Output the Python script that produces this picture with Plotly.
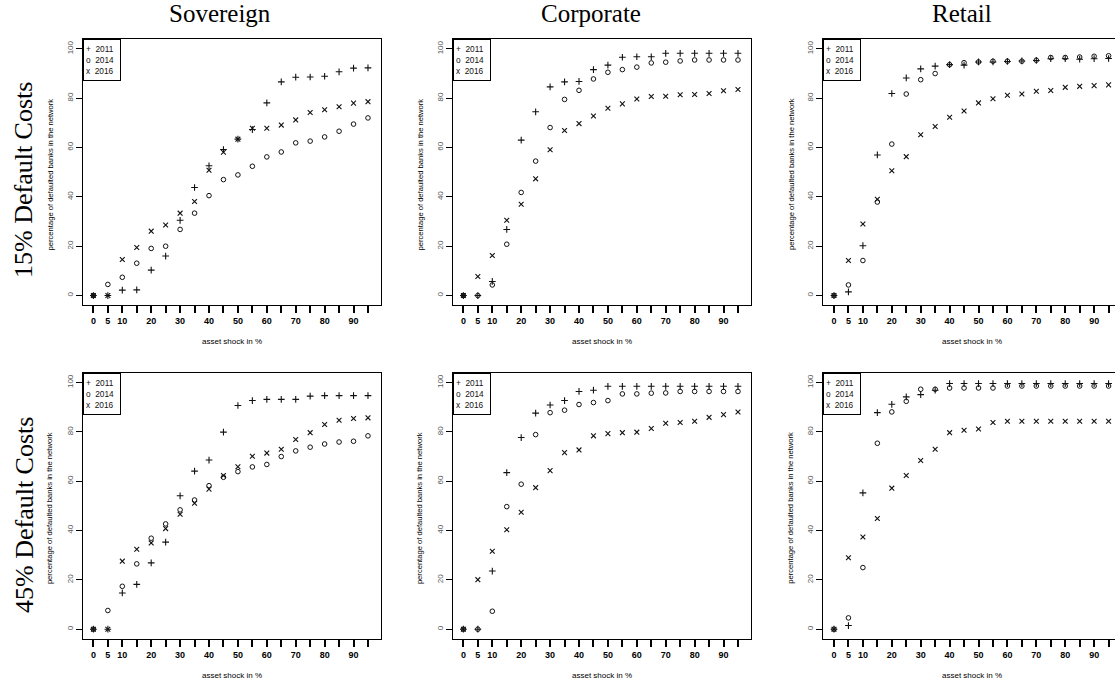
import plotly.graph_objects as go

# ---------------- data ----------------
shocks = [0, 5, 10, 15, 20, 25, 30, 35, 40, 45, 50, 55, 60, 65, 70, 75, 80, 85, 90, 95]
x_tick_text = ["0", "5", "10", "", "20", "", "30", "", "40", "", "50", "", "60", "", "70", "", "80", "", "90", ""]
y_ticks = [0, 20, 40, 60, 80, 100]
years = ["2011", "2014", "2016"]
col_titles = ["Sovereign", "Corporate", "Retail"]
row_titles = ["15% Default Costs", "45% Default Costs"]

sov15_2011 = [0, 0, 2.2, 2.3, 10.3, 16.0, 30.5, 43.8, 52.6, 59.2, 63.4, 67.3, 78.1, 86.6, 88.5, 88.6, 88.9, 90.7, 92.2, 92.3]
sov15_2014 = [0, 4.5, 7.4, 13.1, 19.1, 20.0, 26.8, 33.4, 40.5, 47.0, 48.9, 52.4, 56.2, 58.2, 61.9, 62.6, 64.3, 66.6, 69.5, 72.0]
sov15_2016 = [0, 0, 14.6, 19.5, 26.1, 28.6, 33.4, 38.1, 50.8, 58.1, 63.4, 67.8, 67.8, 69.1, 71.2, 74.2, 75.3, 76.5, 78.0, 78.6]

cor15_2011 = [0, 0, 5.7, 26.8, 63.0, 74.5, 84.6, 86.6, 86.8, 91.6, 93.4, 96.6, 96.8, 96.8, 98.2, 98.2, 98.2, 98.2, 98.2, 98.2]
cor15_2014 = [0, 0, 4.3, 20.8, 41.8, 54.5, 68.1, 79.5, 83.2, 87.8, 90.5, 91.6, 92.6, 94.3, 94.6, 95.1, 95.5, 95.5, 95.5, 95.5]
cor15_2016 = [0, 7.7, 16.2, 30.5, 37.0, 47.3, 59.1, 66.9, 69.7, 72.8, 75.9, 77.7, 79.7, 80.7, 80.8, 81.4, 81.5, 81.9, 83.0, 83.5]

ret15_2011 = [0, 1.5, 20.2, 57.0, 81.9, 88.2, 91.9, 93.0, 93.6, 93.4, 94.7, 94.7, 94.9, 95.1, 95.3, 96.0, 96.0, 95.8, 96.0, 96.1]
ret15_2014 = [0, 4.3, 14.2, 37.9, 61.4, 81.7, 87.5, 90.0, 93.6, 94.4, 94.7, 95.0, 95.0, 95.0, 95.4, 96.5, 96.5, 96.7, 97.0, 97.2]
ret15_2016 = [0, 14.2, 29.0, 39.0, 50.6, 56.3, 65.2, 68.5, 72.3, 74.8, 78.1, 79.8, 81.2, 81.7, 82.8, 83.1, 84.4, 84.8, 85.1, 85.4]

sov45_2011 = [0, 0, 14.7, 18.2, 26.9, 35.3, 54.1, 64.1, 68.6, 79.9, 90.7, 92.7, 93.2, 93.2, 93.2, 94.5, 94.7, 94.7, 94.7, 94.7]
sov45_2014 = [0, 7.6, 17.4, 26.5, 36.9, 42.7, 48.4, 52.4, 58.2, 61.6, 63.9, 65.8, 66.8, 70.0, 72.3, 73.8, 75.1, 75.9, 76.2, 78.4]
sov45_2016 = [0, 0, 27.6, 32.4, 35.0, 40.8, 46.6, 51.1, 56.8, 62.3, 65.9, 70.1, 71.4, 73.0, 76.9, 79.7, 83.0, 84.7, 85.4, 85.7]

cor45_2011 = [0, 0, 23.6, 63.5, 77.7, 87.6, 90.9, 92.7, 96.4, 96.9, 98.5, 98.5, 98.5, 98.5, 98.5, 98.5, 98.5, 98.5, 98.5, 98.5]
cor45_2014 = [0, 0, 7.3, 49.7, 58.8, 78.9, 87.8, 88.8, 91.1, 91.9, 92.7, 95.4, 95.4, 95.7, 95.8, 96.4, 96.4, 96.4, 96.4, 96.4]
cor45_2016 = [0, 20.1, 31.6, 40.3, 47.4, 57.4, 64.3, 71.6, 72.7, 78.4, 79.3, 79.7, 79.9, 81.4, 83.5, 83.8, 84.3, 85.9, 87.0, 88.1]

ret45_2011 = [0, 1.5, 55.3, 87.8, 91.2, 94.2, 95.1, 96.9, 99.6, 99.6, 99.6, 99.6, 99.6, 99.6, 99.6, 99.6, 99.6, 99.6, 99.6, 99.6]
ret45_2014 = [0, 4.6, 25.0, 75.4, 88.1, 92.4, 97.3, 97.3, 97.8, 97.8, 97.8, 97.8, 98.6, 98.6, 98.6, 98.6, 98.6, 98.6, 98.6, 98.6]
ret45_2016 = [0, 29.0, 37.4, 44.9, 57.2, 62.3, 68.4, 73.0, 79.7, 80.7, 81.2, 83.8, 84.3, 84.3, 84.3, 84.3, 84.3, 84.3, 84.3, 84.3]

panels = [
    [sov15_2011, sov15_2014, sov15_2016],
    [cor15_2011, cor15_2014, cor15_2016],
    [ret15_2011, ret15_2014, ret15_2016],
    [sov45_2011, sov45_2014, sov45_2016],
    [cor45_2011, cor45_2014, cor45_2016],
    [ret45_2011, ret45_2014, ret45_2016],
]

# ---------------- layout geometry (pixels) ----------------
W, H = 1115, 686
col_left = [82.7, 452.7, 823.3]
col_right = [380.7, 750.7, 1115.0]
row_top = [39.0, 372.7]
row_bot = [305.4, 639.1]
px_per_unit = 298.0 / 103.1
x0 = -3.7

def px(x):
    return x / W

def py(y):
    return 1 - y / H

symbols = [
    dict(symbol="cross-thin-open", size=4.8, line=dict(width=1.1, color="#111")),
    dict(symbol="circle-open", size=4.6, line=dict(width=1, color="#111")),
    dict(symbol="x-thin-open", size=4.8, line=dict(width=1.1, color="#111")),
]

fig = go.Figure()
layout_axes = {}
annotations = []
for i, series in enumerate(panels):
    r, c = divmod(i, 3)
    n = i + 1
    xa = "x" if n == 1 else f"x{n}"
    ya = "y" if n == 1 else f"y{n}"
    for k, vals in enumerate(series):
        fig.add_trace(go.Scatter(
            x=shocks, y=vals, mode="markers", name=years[k],
            marker=dict(color="#111", **symbols[k]),
            xaxis=xa, yaxis=ya, showlegend=False,
        ))
    width_px = col_right[c] - col_left[c]
    x1 = x0 + width_px / px_per_unit
    layout_axes[f"xaxis{'' if n == 1 else n}"] = dict(
        domain=[px(col_left[c]), px(col_right[c])],
        range=[x0, x1], anchor=ya,
        tickmode="array", tickvals=shocks, ticktext=x_tick_text,
        ticks="outside", ticklen=7, tickwidth=1.6, tickcolor="#000",
        showline=True, linecolor="#000", linewidth=1, mirror=True,
        showgrid=False, zeroline=False,
        tickfont=dict(family="Liberation Sans, Arial", size=9, color="#000", weight="bold"),
        fixedrange=True,
    )
    layout_axes[f"yaxis{'' if n == 1 else n}"] = dict(
        domain=[py(row_bot[r]), py(row_top[r])],
        range=[-4, 104], anchor=xa,
        tickmode="array", tickvals=y_ticks,
        ticks="outside", ticklen=6, tickwidth=1, tickcolor="#000",
        tickangle=-90,
        showline=True, linecolor="#000", linewidth=1, mirror=(c != 2),
        showgrid=False, zeroline=False,
        tickfont=dict(family="Liberation Sans, Arial", size=8, color="#555"),
        fixedrange=True,
    )
    # R-style legend box in the top-left corner
    annotations.append(dict(
        xref="paper", yref="paper", x=px(col_left[c]), y=py(row_top[r]),
        xanchor="left", yanchor="top", align="left", showarrow=False,
        text="+  2011<br>o  2014<br>x  2016",
        font=dict(family="Liberation Sans, Arial", size=8.3, color="#111"),
        bordercolor="#000", borderwidth=1, borderpad=2, bgcolor="#fff",
        width=32, height=36,
    ))
    # axis titles
    cx = col_left[c] + 149.0
    annotations.append(dict(
        xref="paper", yref="paper", x=px(cx), y=py(row_bot[r] + 36.5),
        xanchor="center", yanchor="middle", showarrow=False,
        text="asset shock in %",
        font=dict(family="Liberation Sans, Arial", size=8, color="#000"),
    ))
    annotations.append(dict(
        xref="paper", yref="paper", x=px(col_left[c] - 32.5),
        y=py((row_top[r] + row_bot[r]) / 2 + 2),
        xanchor="center", yanchor="middle", showarrow=False, textangle=-90,
        text="percentage of defaulted banks in the network",
        font=dict(family="Liberation Sans, Arial", size=7.6, color="#000"),
    ))

title_x = [219.5, 591.0, 961.5]
for c in range(3):
    annotations.append(dict(
        xref="paper", yref="paper", x=px(title_x[c]), y=py(13.5),
        xanchor="center", yanchor="middle", showarrow=False,
        text=col_titles[c],
        font=dict(family="Liberation Serif, Times New Roman", size=25, color="#000"),
    ))

row_label_y = [180.0, 515.0]
for r in range(2):
    annotations.append(dict(
        xref="paper", yref="paper", x=px(24.0), y=py(row_label_y[r]),
        xanchor="center", yanchor="middle", showarrow=False, textangle=-90,
        text=row_titles[r],
        font=dict(family="Liberation Serif, Times New Roman", size=26, color="#000"),
    ))

fig.update_layout(
    width=W, height=H,
    margin=dict(l=0, r=0, t=0, b=0),
    paper_bgcolor="#fff", plot_bgcolor="#fff",
    showlegend=False,
    annotations=annotations,
    **layout_axes,
)

fig.write_html("out.html", include_plotlyjs=True, config={"displayModeBar": False})
